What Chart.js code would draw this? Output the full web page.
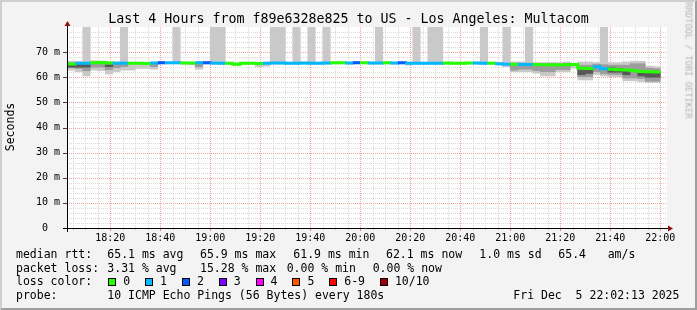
<!DOCTYPE html>
<html>
<head>
<meta charset="utf-8">
<title>Last 4 Hours from f89e6328e825 to US - Los Angeles: Multacom</title>
<script src="https://cdn.jsdelivr.net/npm/chart.js@4.4.1/dist/chart.umd.min.js"></script>
<style>
  html, body { margin: 0; padding: 0; background: #f3f3f3; }
  #graph { position: relative; width: 697px; height: 310px; overflow: hidden;
           font-family: 'DejaVu Sans Mono', monospace; color: #000; }
  #graph canvas { position: absolute; left: 0; top: 0; }
  #frame { position: absolute; left: 0; top: 0; width: 697px; height: 310px; box-sizing: border-box;
           border-style: solid; border-width: 2px;
           border-color: #cfcfcf #9e9e9e #9e9e9e #cfcfcf; pointer-events: none; }
  .t { position: absolute; white-space: pre; font-size: 11.5px; line-height: 13px; }
  #title { left: 0; width: 697px; top: 12px; text-align: center; font-size: 13.3px; line-height: 14px; }
  #ytitle { left: -39px; top: 120px; width: 100px; height: 14px; text-align: center;
            transform: rotate(-90deg); }
  #credit { left: 628px; top: 55px; width: 120px; height: 11px; text-align: center;
            font-size: 8.8px; line-height: 11px; color: #b4b4b4; transform: rotate(90deg); }
  .box { position: absolute; width: 8px; height: 8px; box-sizing: border-box; border: 1px solid #000; top: 278px; }
</style>
</head>
<body>
<div id="graph">
  <canvas id="smoke" width="697" height="310"></canvas>
  <div class="t" id="title">Last 4 Hours from f89e6328e825 to US - Los Angeles: Multacom</div>
  <div class="t" id="ytitle">Seconds</div>
  <div class="t" id="credit">RRDTOOL / TOBI OETIKER</div>

  <div class="t" style="left:16px;top:248px">median rtt:</div>
  <div class="t" style="left:107.3px;top:248px">65.1 ms avg</div>
  <div class="t" style="left:200px;top:248px">65.9 ms max</div>
  <div class="t" style="left:293.3px;top:248px">61.9 ms min</div>
  <div class="t" style="left:386px;top:248px">62.1 ms now</div>
  <div class="t" style="left:479.3px;top:248px">1.0 ms sd</div>
  <div class="t" style="left:558.3px;top:248px">65.4</div>
  <div class="t" style="left:607.7px;top:248px">am/s</div>

  <div class="t" style="left:16px;top:261.5px">packet loss:</div>
  <div class="t" style="left:107.3px;top:261.5px">3.31 % avg</div>
  <div class="t" style="left:200px;top:261.5px">15.28 % max</div>
  <div class="t" style="left:286.7px;top:261.5px">0.00 % min</div>
  <div class="t" style="left:372.7px;top:261.5px">0.00 % now</div>

  <div class="t" style="left:16px;top:275.3px">loss color:</div>
  <div id="losskey"></div>

  <div class="t" style="left:16px;top:289px">probe:</div>
  <div class="t" style="left:107.3px;top:289px">10 ICMP Echo Pings (56 Bytes) every 180s</div>
  <div class="t" style="left:513.3px;top:289px">Fri Dec  5 22:02:13 2025</div>

  <div id="frame"></div>
</div>

<script>
// ---- data ----
const dayStart = '18:00';
const firstStep = '18:03';   // start of first 3-minute step
const stepMinutes = 3;

const xTickLabels = ['18:20', '18:40', '19:00', '19:20', '19:40', '20:00',
                     '20:20', '20:40', '21:00', '21:20', '21:40', '22:00'];
const yTickValues = [0, 10, 20, 30, 40, 50, 60, 70];
const yTickLabels = ['0  ', '10 m', '20 m', '30 m', '40 m', '50 m', '60 m', '70 m'];

// median rtt per step (ms)
const median = [
  65.3, 65.6, 65.6, 65.8, 65.9, 65.7, 65.6, 65.6, 65.6, 65.6,
  65.5, 65.7, 65.8, 65.8, 65.8, 65.7, 65.7, 65.8, 65.8, 65.6,
  65.6, 65.6, 65.2, 65.6, 65.6, 65.5, 65.6, 65.7, 65.7, 65.6,
  65.6, 65.7, 65.6, 65.6, 65.7, 65.8, 65.8, 65.7, 65.8, 65.8,
  65.7, 65.7, 65.8, 65.7, 65.8, 65.6, 65.6, 65.6, 65.6, 65.6,
  65.7, 65.6, 65.6, 65.7, 65.7, 65.6, 65.6, 65.4, 65.2, 65.2,
  65.1, 65.1, 65.1, 65.0, 65.0, 64.9, 65.0, 65.1, 63.6, 63.5,
  64.2, 63.4, 63.2, 63.0, 62.9, 62.6, 62.3, 62.2, 62.1
];
// lost pings (of 10) per step
const lost = [
  0, 1, 1, 0, 0, 0, 1, 1, 0, 0,
  0, 1, 2, 1, 1, 0, 0, 1, 2, 1,
  1, 0, 0, 0, 0, 0, 1, 1, 1, 1,
  1, 1, 1, 1, 1, 0, 0, 1, 2, 0,
  1, 1, 0, 1, 2, 1, 1, 1, 1, 1,
  0, 0, 0, 0, 1, 1, 0, 1, 1, 0,
  1, 1, 0, 0, 0, 0, 0, 0, 0, 0,
  1, 1, 0, 0, 0, 0, 0, 0, 0
];
// smoke: fastest and slowest ping per step (ms)
const smokeMin = [
  62.8, 62.2, 60.5, 62.8, 62.6, 61.3, 62.2, 62.8, 62.8, 63.5,
  63.5, 63.2, 65.2, 65.3, 65.3, 65.2, 64.9, 63.2, 65.3, 65.2,
  65.0, 65.1, 64.5, 65.1, 65.1, 64.2, 64.4, 65.2, 65.2, 65.2,
  65.2, 65.2, 65.2, 65.2, 65.2, 65.3, 65.3, 65.2, 65.3, 65.3,
  65.2, 65.2, 65.3, 65.2, 65.3, 64.8, 65.2, 65.2, 65.2, 65.2,
  65.2, 65.2, 65.0, 65.2, 65.2, 65.1, 65.2, 64.9, 64.2, 62.2,
  62.2, 62.2, 61.6, 60.5, 60.5, 62.2, 62.2, 63.6, 58.9, 58.9,
  61.1, 60.5, 60.2, 60.2, 58.6, 58.6, 58.2, 57.9, 57.9
];
const smokeMax = [
  66.4, 66.3, 90.0, 66.6, 66.5, 66.3, 66.1, 90.0, 66.0, 66.0,
  66.0, 66.0, 66.1, 66.1, 90.0, 66.0, 66.0, 66.1, 66.1, 90.0,
  90.0, 66.0, 65.8, 66.0, 66.0, 65.9, 66.0, 90.0, 90.0, 66.0,
  90.0, 66.0, 90.0, 66.0, 90.0, 66.1, 66.1, 66.0, 66.1, 66.1,
  66.0, 90.0, 66.1, 66.0, 66.1, 66.0, 90.0, 66.0, 90.0, 90.0,
  66.0, 66.0, 66.0, 66.0, 66.0, 90.0, 66.0, 65.8, 90.0, 66.1,
  66.1, 90.0, 65.8, 65.8, 65.8, 65.8, 66.1, 65.5, 66.1, 66.1,
  65.8, 90.0, 65.8, 65.8, 66.1, 66.4, 66.4, 64.4, 64.2
];
// denser part of the smoke (inner pings)
const smokeMidLo = [
  63.8, 63.5, 62.6, 64.0, 64.0, 63.0, 63.8, 64.2, null, null,
  null, 64.2, null, null, null, null, null, 64.2, null, null,
  null, null, null, null, null, null, null, null, null, null,
  null, null, null, null, null, null, null, null, null, null,
  null, null, null, null, null, null, null, null, null, null,
  null, null, null, null, null, null, null, null, null, 62.8,
  63.2, 63.2, 62.6, 62.2, 62.2, 63.0, 63.0, null, 60.2, 60.2,
  62.2, 61.4, 61.1, 61.1, 59.7, 59.7, 59.5, 58.4, 58.4
];
const smokeMidHi = [
  65.8, 65.8, 65.8, 66.0, 66.0, 65.8, 65.8, 65.8, null, null,
  null, 65.8, null, null, null, null, null, 65.8, null, null,
  null, null, null, null, null, null, null, null, null, null,
  null, null, null, null, null, null, null, null, null, null,
  null, null, null, null, null, null, null, null, null, null,
  null, null, null, null, null, null, null, null, null, 65.6,
  65.6, 65.6, 65.5, 65.5, 65.5, 65.4, 65.6, null, 64.8, 64.8,
  65.2, 65.0, 64.8, 64.8, 64.8, 65.4, 65.4, 63.6, 63.4
];
// pings closest to the median
const smokeCoreLo = [
  64.0, 64.0, 64.0, null, null, 64.2, null, null, null, null,
  null, null, null, null, null, null, null, null, null, null,
  null, null, null, null, null, null, null, null, null, null,
  null, null, null, null, null, null, null, null, null, null,
  null, null, null, null, null, null, null, null, null, null,
  null, null, null, null, null, null, null, null, null, null,
  null, null, null, null, null, null, null, null, 61.0, 61.5,
  null, null, 62.0, 62.0, 61.0, null, 60.5, 60.0, 60.0
];
const smokeCoreHi = [
  65.1, 65.1, 65.1, null, null, 65.0, null, null, null, null,
  null, null, null, null, null, null, null, null, null, null,
  null, null, null, null, null, null, null, null, null, null,
  null, null, null, null, null, null, null, null, null, null,
  null, null, null, null, null, null, null, null, null, null,
  null, null, null, null, null, null, null, null, null, null,
  null, null, null, null, null, null, null, null, 63.0, 63.0,
  null, null, 63.8, 63.5, 63.0, null, 62.0, 61.8, 61.8
];

// loss colour per number of lost pings (0..10)
const lossPalette = ['#26ff00', '#00b8ff', '#0059ff', '#7e00ff', '#ff00ff', '#ff5500',
                     '#ff0000', '#ff0000', '#ff0000', '#ff0000', '#a10000'];
const lossKeyLabels = ['0', '1', '2', '3', '4', '5', '6-9', '10/10'];
const lossKeyColors = ['#26ff00', '#00b8ff', '#0059ff', '#7e00ff', '#ff00ff', '#ff5500', '#ff0000', '#a10000'];

// ---- helpers ----
function toMin(hhmm) {
  let p = hhmm.split(':').map(Number);
  let b = dayStart.split(':').map(Number);
  return (p[0] - b[0]) * 60 + (p[1] - b[1]);
}
const axisStart = toMin(firstStep) - 0.3;
const axisEnd = axisStart + 240;
const t0 = toMin(firstStep);
function stepStart(i) { return t0 + i * stepMinutes; }

function band(lo, hi) {
  let out = [];
  lo.forEach((v, i) => {
    if (v !== null && hi[i] !== null) out.push({ x: stepStart(i) + stepMinutes / 2, y: [v, hi[i]] });
  });
  return out;
}

let medianLine = median.map((v, i) => ({ x: stepStart(i), y: v }));
medianLine.push({ x: stepStart(median.length), y: median[median.length - 1] });

// loss colour key: swatch followed by its label
let key = document.getElementById('losskey');
let keyLeft = 108.3;
lossKeyLabels.forEach((label, i) => {
  let b = document.createElement('div');
  b.className = 'box';
  b.style.left = keyLeft + 'px';
  b.style.background = lossKeyColors[i];
  key.appendChild(b);
  let t = document.createElement('div');
  t.className = 't';
  t.style.left = (keyLeft + 15) + 'px';
  t.style.top = '275.3px';
  t.textContent = label;
  key.appendChild(t);
  keyLeft += 15 + label.length * 6.92 + 14.9;
});

// ---- rrdtool style grid, axes and arrows ----
const rrdLook = {
  id: 'rrdLook',
  beforeDraw(chart) {
    let a = chart.chartArea;
    chart.ctx.save();
    chart.ctx.fillStyle = '#ffffff';
    chart.ctx.fillRect(a.left, a.top, a.right - a.left, a.bottom - a.top);
    chart.ctx.restore();
  },
  beforeDatasetsDraw(chart) {
    let ctx = chart.ctx, a = chart.chartArea, x = chart.scales.x, y = chart.scales.y;
    ctx.save();
    ctx.lineWidth = 1;
    ctx.setLineDash([1, 1]);
    function vline(v) {
      let px = Math.round(x.getPixelForValue(v)) + 0.5;
      ctx.beginPath(); ctx.moveTo(px, a.bottom); ctx.lineTo(px, a.top); ctx.stroke();
    }
    function hline(v) {
      let py = Math.round(y.getPixelForValue(v)) + 0.5;
      ctx.beginPath(); ctx.moveTo(a.left, py); ctx.lineTo(a.right, py); ctx.stroke();
    }
    ctx.strokeStyle = '#dadada';
    for (let m = 5; m < axisEnd; m += 5) if (m % 20) vline(m);
    for (let v = 2; v < 80; v += 2) if (v % 10) hline(v);
    ctx.strokeStyle = '#f4a4a4';
    for (let m = 20; m < axisEnd; m += 20) vline(m);
    for (let v = 10; v < 80; v += 10) hline(v);
    ctx.restore();
  },
  afterDraw(chart) {
    let ctx = chart.ctx, a = chart.chartArea, x = chart.scales.x, y = chart.scales.y;
    ctx.save();
    ctx.lineWidth = 1;
    // tick marks below the time axis
    for (let m = 5; m < axisEnd; m += 5) {
      let px = Math.round(x.getPixelForValue(m)) + 0.5;
      ctx.strokeStyle = m % 20 ? '#c0c0c0' : '#f08080';
      ctx.beginPath(); ctx.moveTo(px, a.bottom); ctx.lineTo(px, a.bottom + (m % 20 ? 2 : 3)); ctx.stroke();
    }
    // tick marks left of the value axis
    ctx.strokeStyle = '#404040';
    yTickValues.forEach(v => {
      let py = Math.round(y.getPixelForValue(v)) + 0.5;
      ctx.beginPath(); ctx.moveTo(a.left - 4, py); ctx.lineTo(a.left, py); ctx.stroke();
    });
    // axes
    let ax = a.left + 0.5, ay = a.bottom + 0.5;
    ctx.strokeStyle = '#000';
    ctx.beginPath(); ctx.moveTo(ax, a.bottom + 4); ctx.lineTo(ax, a.top - 2); ctx.stroke();
    ctx.beginPath(); ctx.moveTo(a.left - 4, ay); ctx.lineTo(a.right + 1, ay); ctx.stroke();
    // arrows
    ctx.fillStyle = '#8b1414';
    ctx.beginPath(); ctx.moveTo(ax, a.top - 6); ctx.lineTo(ax - 3, a.top - 1); ctx.lineTo(ax + 3, a.top - 1); ctx.closePath(); ctx.fill();
    ctx.beginPath(); ctx.moveTo(a.right + 6, ay); ctx.lineTo(a.right + 1, ay - 3); ctx.lineTo(a.right + 1, ay + 3); ctx.closePath(); ctx.fill();
    ctx.restore();
  }
};

Chart.defaults.font.family = "'DejaVu Sans Mono', monospace";
Chart.defaults.color = '#000';

new Chart(document.getElementById('smoke'), {
  type: 'bar',
  data: {
    datasets: [
      {
        type: 'line',
        label: 'median rtt',
        data: medianLine,
        stepped: true,
        borderWidth: 3,
        borderCapStyle: 'butt',
        pointRadius: 0,
        borderColor: lossPalette[0],
        segment: {
          borderColor: c => lossPalette[lost[Math.min(c.p0DataIndex, lost.length - 1)]]
        },
        order: 0
      },
      { label: 'core', data: band(smokeCoreLo, smokeCoreHi), backgroundColor: '#585858', order: 1 },
      { label: 'mid', data: band(smokeMidLo, smokeMidHi), backgroundColor: '#9c9c9c', order: 2 },
      { label: 'smoke', data: band(smokeMin, smokeMax), backgroundColor: '#c9c9c9', order: 3 }
    ]
  },
  options: {
    responsive: false,
    animation: false,
    devicePixelRatio: 1,
    layout: { padding: { top: 27, right: 30, left: 0, bottom: 0 } },
    datasets: {
      bar: { grouped: false, barPercentage: 1, categoryPercentage: 1, borderWidth: 0 }
    },
    plugins: {
      legend: { display: false },
      tooltip: { enabled: false },
      title: { display: false }
    },
    scales: {
      x: {
        type: 'linear',
        offset: false,
        min: axisStart,
        max: axisEnd,
        grid: { display: false, drawTicks: false },
        border: { display: false },
        afterBuildTicks: s => { s.ticks = xTickLabels.map(l => ({ value: toMin(l) })); },
        afterFit: s => { s.height = 82; },
        ticks: {
          autoSkip: false,
          maxRotation: 0,
          padding: 4,
          font: { size: 10 },
          callback: (v, i) => xTickLabels[i]
        }
      },
      y: {
        min: 0,
        max: 80,
        grid: { display: false, drawTicks: false },
        border: { display: false },
        afterBuildTicks: s => { s.ticks = yTickValues.map(v => ({ value: v })); },
        afterFit: s => { s.width = 67; },
        ticks: {
          padding: 7,
          font: { size: 10 },
          callback: (v, i) => yTickLabels[i]
        }
      }
    }
  },
  plugins: [rrdLook]
});
</script>
</body>
</html>
